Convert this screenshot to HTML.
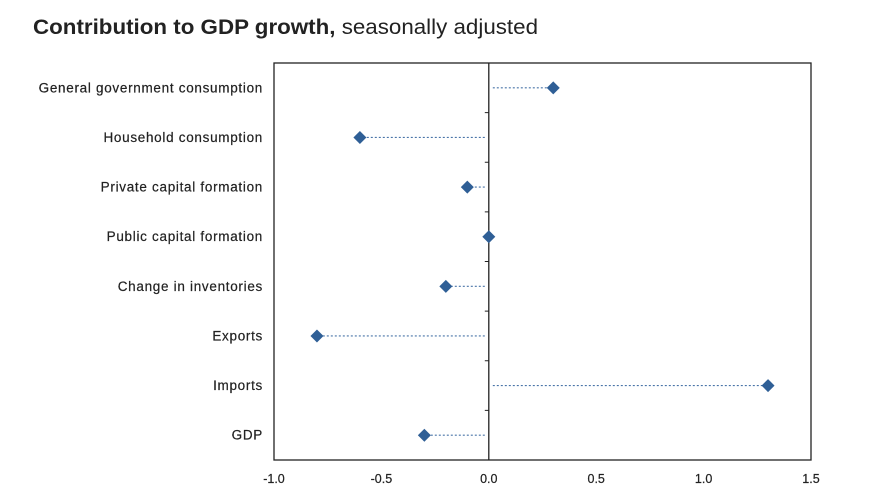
<!DOCTYPE html>
<html><head><meta charset="utf-8"><style>
html,body{margin:0;padding:0;background:#fff;}
svg{display:block;font-family:"Liberation Sans",Arial,sans-serif;}
</style></head><body>
<svg id="chart" width="881" height="502" viewBox="0 0 881 502" xmlns="http://www.w3.org/2000/svg">
<text x="33" y="34" font-size="21" fill="#222" textLength="505" lengthAdjust="spacingAndGlyphs"><tspan font-weight="bold">Contribution to GDP growth,</tspan> seasonally adjusted</text>
<g id="plot"></g>
</svg>
<script>
const categories = ["General government consumption","Household consumption","Private capital formation","Public capital formation","Change in inventories","Exports","Imports","GDP"];
const values = [0.3, -0.6, -0.1, 0.0, -0.2, -0.8, 1.3, -0.3];
const xTicks = [-1.0, -0.5, 0.0, 0.5, 1.0, 1.5];
const xTickLabels = ["-1.0","-0.5","0.0","0.5","1.0","1.5"];

const L=274,R=811,T=63,B=460,xmin=-1,xmax=1.5;
const NS="http://www.w3.org/2000/svg";
const g=document.getElementById('plot');
const x=v=>L+(v-xmin)/(xmax-xmin)*(R-L);
const band=(B-T)/categories.length;
const y=i=>T+band*(i+0.5);
function mk(t,a){const e=document.createElementNS(NS,t);for(const k in a)e.setAttribute(k,a[k]);g.appendChild(e);return e;}

const frame=mk('rect',{x:L,y:T,width:R-L,height:B-T,fill:'none',stroke:'#222','stroke-width':1.3});


const z=x(0);
const zl=mk('line',{x1:z,y1:T,x2:z,y2:B,stroke:'#222','stroke-width':1.3});


for(let i=1;i<categories.length;i++){
  const t=mk('line',{x1:z-4,y1:T+band*i,x2:z,y2:T+band*i,stroke:'#222','stroke-width':1});
  
  
}
xTicks.forEach((v,i)=>{
  const t=mk('text',{x:x(v),y:483,'font-size':12.5,fill:'#222','text-anchor':'middle',stroke:'#222','stroke-width':0.2});
  t.textContent=xTickLabels[i];
  
  
});
categories.forEach((c,i)=>{
  const cy=y(i);
  const t=mk('text',{x:263,y:cy+4.5,'font-size':13.5,fill:'#222','text-anchor':'end','letter-spacing':'0.7',stroke:'#222','stroke-width':0.2});
  t.textContent=c;
  
  
  const v=values[i];
  const px=x(v);
  if(Math.abs(px-z)>8){
    const dir=px>z?1:-1;
    const ln=mk('line',{x1:z+dir*4,y1:cy,x2:px,y2:cy,stroke:'#4a75a8','stroke-width':1.2,'stroke-dasharray':'2,2'});
    
    
  }
  const d=6.5;
  const m=mk('polygon',{points:`${px},${cy-d} ${px+d},${cy} ${px},${cy+d} ${px-d},${cy}`,fill:'#2f5f96'});
  
  
});
</script>
</body></html>
